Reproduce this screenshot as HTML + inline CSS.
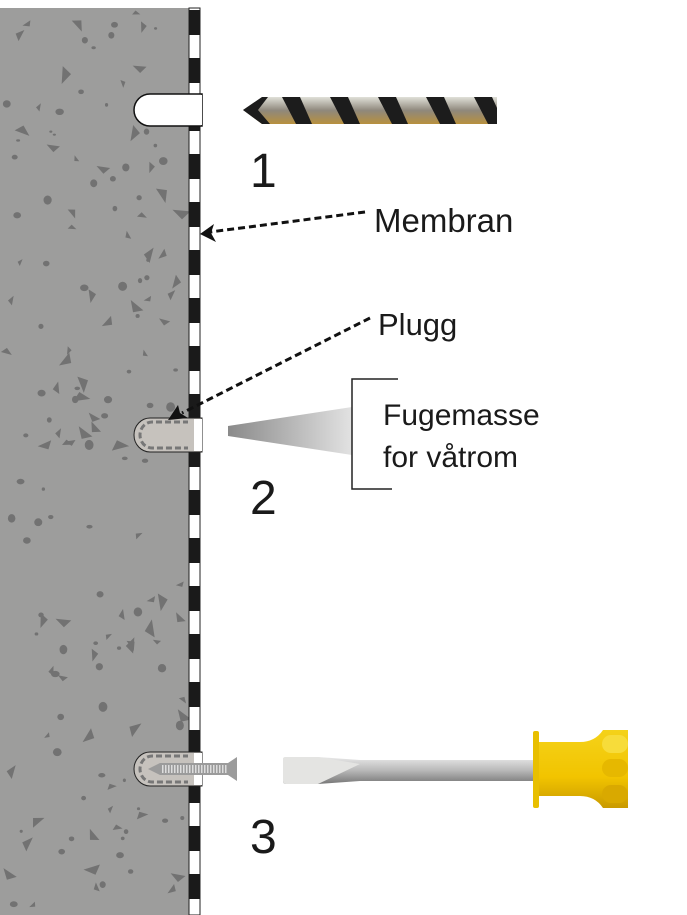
<!DOCTYPE html>
<html><head><meta charset="utf-8"><style>
html,body{margin:0;padding:0;background:#fff;}
svg{display:block;}
text{font-family:"Liberation Sans",sans-serif;fill:#1a1a1a;}
</style></head><body>
<svg width="687" height="915" viewBox="0 0 687 915" xmlns="http://www.w3.org/2000/svg">
<defs>
<linearGradient id="wedge" x1="0" x2="1" y1="0" y2="0"><stop offset="0" stop-color="#8a8a8a"/><stop offset="1" stop-color="#e2e2e2"/></linearGradient>
<linearGradient id="drill" x1="0" x2="0" y1="0" y2="1"><stop offset="0" stop-color="#e0e0d8"/><stop offset="0.5" stop-color="#8f887c"/><stop offset="1" stop-color="#b8903e"/></linearGradient>
<linearGradient id="shaft" x1="0" x2="0" y1="0" y2="1"><stop offset="0" stop-color="#e8e8e8"/><stop offset="0.5" stop-color="#b8b8b8"/><stop offset="1" stop-color="#777"/></linearGradient>
<linearGradient id="yel" x1="0" x2="0" y1="0" y2="1"><stop offset="0" stop-color="#f4d21a"/><stop offset="0.6" stop-color="#f2c400"/><stop offset="1" stop-color="#c99a00"/></linearGradient>
</defs>
<rect x="0" y="8" width="189" height="907" fill="#9d9d9c"/>
<g id="spk" fill="#727272"></g>
<rect x="189" y="8" width="11" height="907" fill="#fff" stroke="#222" stroke-width="1"/>
<line x1="194.5" y1="10" x2="194.5" y2="915" stroke="#1a1a1a" stroke-width="11" stroke-dasharray="25 23" stroke-dashoffset="0"/>
<!-- hole 1 -->
<path d="M202 94 H150 A16 16 0 0 0 150 126 H202 Z" fill="#fff" stroke="#111" stroke-width="1.5"/>
<rect x="188" y="95" width="14" height="30" fill="#fff"/>
<!-- drill -->
<path d="M243 110 L262 97 H497 V124 H262 Z" fill="url(#drill)"/>
<g fill="#1c1c1c">
<path d="M243 110 L262 97 L268 97 L258 110 L270 124 L262 124 Z"/>
<path d="M282 97 L300 97 L312 124 L296 124 Z"/>
<path d="M330 97 L348 97 L360 124 L344 124 Z"/>
<path d="M378 97 L396 97 L408 124 L392 124 Z"/>
<path d="M426 97 L444 97 L456 124 L440 124 Z"/>
<path d="M474 97 L492 97 L497 108 L497 124 L488 124 Z"/>
</g>
<text x="250" y="187" font-size="48">1</text>
<line x1="365" y1="212" x2="210" y2="232" stroke="#111" stroke-width="3" stroke-dasharray="7 4"/>
<path d="M200 234 L214 224 L211 233 L216 242 Z" fill="#111"/>
<text x="374" y="232" font-size="33">Membran</text>
<!-- plug 2 -->
<path d="M202 418 H150 A16 17 0 0 0 150 452 H202 Z" fill="#c6c2bd" stroke="#222" stroke-width="1"/>
<path d="M198 422 H152 A12 13 0 0 0 152 448 H198" fill="none" stroke="#777" stroke-width="3" stroke-dasharray="6 3"/>
<rect x="188" y="419" width="14" height="32" fill="#fff"/>
<rect x="188" y="419" width="6" height="32" fill="#c6c2bd"/>
<line x1="370" y1="318" x2="182" y2="413" stroke="#111" stroke-width="3" stroke-dasharray="7 4"/>
<path d="M168 420 L178 405 L180 413 L188 418 Z" fill="#111"/>
<text x="378" y="335" font-size="31">Plugg</text>
<path d="M228 426 L352 407 V455 L228 436 Z" fill="url(#wedge)"/>
<path d="M398 379 H352 V489 H392" fill="none" stroke="#222" stroke-width="1.5"/>
<text x="383" y="425" font-size="30">Fugemasse</text>
<text x="383" y="467" font-size="30">for våtrom</text>
<text x="250" y="514" font-size="48">2</text>
<!-- plug 3 -->
<path d="M202 752 H150 A16 17 0 0 0 150 786 H202 Z" fill="#c6c2bd" stroke="#222" stroke-width="1"/>
<path d="M198 756 H152 A12 13 0 0 0 152 782 H198" fill="none" stroke="#777" stroke-width="3" stroke-dasharray="6 3"/>
<rect x="188" y="753" width="14" height="32" fill="#fff"/>
<rect x="188" y="753" width="6" height="32" fill="#c6c2bd"/>
<path d="M148 769 L160 763 H228 L237 757 V781 L228 775 H160 Z" fill="#9b9b9b"/>
<line x1="162" y1="769" x2="228" y2="769" stroke="#ddd" stroke-width="8" stroke-dasharray="1.5 1.5"/>
<text x="250" y="853" font-size="48">3</text>
<!-- screwdriver -->
<path d="M283 759 Q283 757 286 757 H318 L360 760 H535 V781 H360 L318 784 H286 Q283 784 283 781 Z" fill="url(#shaft)"/>
<path d="M283 759 Q283 757 286 757 H318 L360 764 L318 784 H286 Q283 784 283 781 Z" fill="#e4e4e2"/>
<path d="M538 742 H580 Q595 742 603 730 H628 V808 H603 Q595 796 580 796 H538 Z" fill="url(#yel)"/>
<rect x="533" y="731" width="6" height="77" rx="2" fill="#e8bf00"/>
<rect x="602" y="735" width="26" height="18" rx="9" fill="#f7dc3a"/>
<rect x="602" y="759" width="26" height="18" rx="9" fill="#e6b800"/>
<rect x="602" y="785" width="26" height="18" rx="9" fill="#d9a900"/>
</svg>
<script>
(function(){
var g=document.getElementById('spk');var s=12345;
function r(){s=(s*1103515245+12345)%2147483648;return s/2147483648;}
var h='';
for(var i=0;i<170;i++){
 var x=6+r()*178,y=12+r()*900;
 if((y>90&&y<130&&x>125)||(y>413&&y<457&&x>125)||(y>747&&y<791&&x>125))continue;
 var t=r();
 if(t<0.5){var a=r()*6.28,k=4+r()*6;
  h+='<polygon points="'+(x+k*Math.cos(a))+','+(y+k*Math.sin(a))+' '+(x+k*Math.cos(a+2.3))+','+(y+k*Math.sin(a+2.3))+' '+(x+k*0.5*Math.cos(a+4))+','+(y+k*0.5*Math.sin(a+4))+'"/>';}
 else{var rx=1.5+r()*3;h+='<ellipse cx="'+x+'" cy="'+y+'" rx="'+rx+'" ry="'+(rx*(0.6+r()*0.6))+'"/>';}
}
g.innerHTML=h;
})();
</script>
</body></html>
